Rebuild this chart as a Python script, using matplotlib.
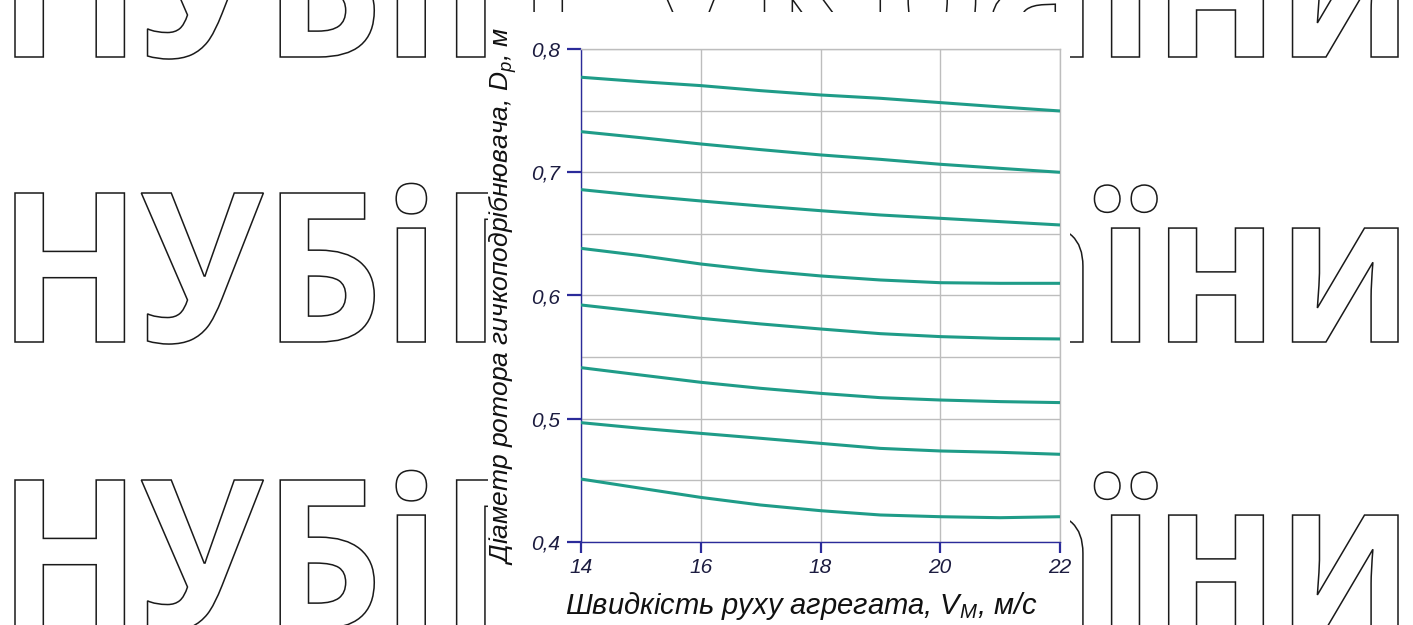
import matplotlib
matplotlib.use("Agg")
import matplotlib.pyplot as plt
from matplotlib.textpath import TextPath
from matplotlib.font_manager import FontProperties
from matplotlib.patches import PathPatch
from matplotlib.transforms import Affine2D

# ---- data ----
speed = [14, 15, 16, 17, 18, 19, 20, 21, 22]
d1 = [0.7773, 0.7737, 0.7705, 0.7664, 0.7629, 0.7602, 0.7567, 0.7532, 0.7499]
d2 = [0.7331, 0.7282, 0.7231, 0.7185, 0.7142, 0.7106, 0.7066, 0.7033, 0.7001]
d3 = [0.6860, 0.6811, 0.6768, 0.6727, 0.6689, 0.6654, 0.6627, 0.6600, 0.6573]
d4 = [0.6383, 0.6324, 0.6256, 0.6202, 0.6159, 0.6126, 0.6104, 0.6099, 0.6099]
d5 = [0.5923, 0.5869, 0.5815, 0.5769, 0.5728, 0.5690, 0.5666, 0.5652, 0.5647]
d6 = [0.5414, 0.5354, 0.5295, 0.5246, 0.5205, 0.5170, 0.5151, 0.5138, 0.5130]
d7 = [0.4967, 0.4921, 0.4880, 0.4840, 0.4799, 0.4758, 0.4737, 0.4726, 0.4710]
d8 = [0.4509, 0.4434, 0.4360, 0.4298, 0.4252, 0.4217, 0.4203, 0.4195, 0.4203]
series = [d1, d2, d3, d4, d5, d6, d7, d8]

x_ticks = [14, 16, 18, 20, 22]
x_ticklabels = ["14", "16", "18", "20", "22"]
y_ticks = [0.4, 0.5, 0.6, 0.7, 0.8]
y_ticklabels = ["0,4", "0,5", "0,6", "0,7", "0,8"]
y_minor = [0.45, 0.55, 0.65, 0.75]

xlabel = "Швидкість руху агрегата, $V_{М}$, м/с"
ylabel = "Діаметр ротора гичкоподрібнювача, $D_{р}$, м"
watermark = "НУБіП України"

# ---- style ----
FONT = ["Liberation Sans", "DejaVu Sans"]
plt.rcParams["font.family"] = FONT
plt.rcParams["mathtext.fontset"] = "custom"
plt.rcParams["mathtext.it"] = "Liberation Sans:italic"
plt.rcParams["mathtext.rm"] = "Liberation Sans:italic"

W, H = 1413, 625
fig = plt.figure(figsize=(W / 100, H / 100), dpi=100)
fig.patch.set_facecolor("white")

# ---- background watermark ----
bg = fig.add_axes([0, 0, 1, 1], zorder=0)
bg.set_xlim(0, W)
bg.set_ylim(H, 0)
bg.axis("off")

wfp = FontProperties(family="Open Sans", weight="bold")
cap_h = TextPath((0, 0), "Н", size=100, prop=wfp).get_extents().y1
tp = TextPath((0, 0), watermark, size=100, prop=wfp)
ext = tp.get_extents()
sy = 149 / cap_h
sx = (1398 - 15) / (ext.x1 - ext.x0)
for base in [57, 342, 629]:
    tr = Affine2D().translate(-ext.x0, 0).scale(sx, -sy).translate(15, base)
    bg.add_patch(PathPatch(tr.transform_path(tp), facecolor="white",
                           edgecolor="#1a1a1a", lw=1.1))

# white card behind the chart (covers the watermark)
cover = fig.add_axes([488 / W, 0, (1070 - 488) / W, (H - 12) / H], zorder=1)
cover.set_facecolor("white")
cover.set_xticks([])
cover.set_yticks([])
for s in cover.spines.values():
    s.set_visible(False)

# ---- chart ----
ax = fig.add_axes([581 / W, 1 - 541.7 / H, 479 / W, 492.4 / H], zorder=2)
ax.set_facecolor("white")
for ys in series:
    ax.plot(speed, ys, color="#1f9c88", lw=2.2, solid_capstyle="butt", zorder=3)

ax.set_xlim(14, 22)
ax.set_ylim(0.4, 0.8)
ax.set_xticks(x_ticks)
ax.set_xticklabels(x_ticklabels)
ax.set_yticks(y_ticks)
ax.set_yticklabels(y_ticklabels)
ax.set_yticks(y_minor, minor=True)
ax.grid(True, which="both", color="#bdbdbd", lw=1.0)
ax.set_axisbelow(True)

navy = "#2b2b9a"
for s in ["left", "bottom"]:
    ax.spines[s].set_color(navy)
    ax.spines[s].set_linewidth(1.0)
for s in ["top", "right"]:
    ax.spines[s].set_color("#bdbdbd")
    ax.spines[s].set_linewidth(1.0)

ax.tick_params(axis="y", which="major", length=10, width=1.6, color=navy,
               pad=5, labelsize=15, labelcolor="#1c1c40")
ax.tick_params(axis="y", which="minor", length=0)
ax.tick_params(axis="x", which="major", length=8, width=1.6, color=navy,
               pad=4, labelsize=15, labelcolor="#1c1c40")
for lab in ax.get_xticklabels() + ax.get_yticklabels():
    lab.set_fontstyle("italic")

ax.set_xlabel(xlabel, fontsize=21, fontstyle="italic", color="#111111")
ax.set_ylabel(ylabel, fontsize=19, fontstyle="italic", color="#111111")
ax.xaxis.label.set_va("center")
ax.yaxis.label.set_va("center")
ax.xaxis.set_label_coords(0.459, -0.13)
ax.yaxis.set_label_coords(-0.163, 0.5)

fig.savefig("out.png", dpi=100)
